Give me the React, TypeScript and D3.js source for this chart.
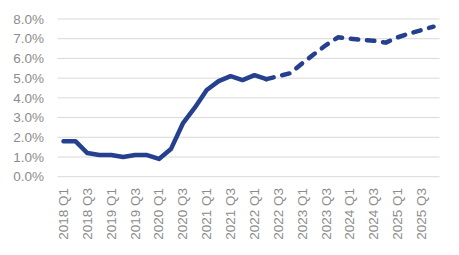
import React from "react";
import * as d3 from "d3";

const quarters: string[] = [];
for (let y = 2018; y <= 2025; y++) for (let q = 1; q <= 4; q++) quarters.push(`${y} Q${q}`);

const values = [
  1.8, 1.8, 1.2, 1.1, 1.1, 1.0, 1.1, 1.1,
  0.9, 1.4, 2.7, 3.5, 4.4, 4.85, 5.1, 4.9,
  5.15, 4.95, 5.1, 5.25, 5.75, 6.22, 6.68, 7.07,
  7.0, 6.94, 6.9, 6.8, 7.07, 7.27, 7.44, 7.61,
];
const lastActualIndex = 17;
const yTicks = [0, 1, 2, 3, 4, 5, 6, 7, 8];

const W = 459, H = 255;

export default function App() {
  const x = d3.scaleBand<string>().domain(quarters).range([57.5, 439.5]).padding(0);
  const y = d3.scaleLinear().domain([0, 8]).range([176.7, 19]);
  const cx = (q: string) => (x(q) as number) + x.bandwidth() / 2;
  const pts = values.map((v, i) => ({ v, i }));
  const lineP = d3.line<{ v: number; i: number }>().x((d) => cx(quarters[d.i])).y((d) => y(d.v));
  const actual = lineP(pts.filter((d) => d.i <= lastActualIndex)) || "";
  const forecast = lineP(pts.filter((d) => d.i >= lastActualIndex)) || "";
  const font = "'Liberation Sans', Arial, sans-serif";
  return (
    <svg width={W} height={H} style={{ position: "absolute", left: 0, top: 0 }}>
      <rect width={W} height={H} fill="#fff" />
      {yTicks.map((t) => (
        <g key={t}>
          <line x1={57.5} x2={439.5} y1={y(t)} y2={y(t)} stroke="#d9d9d9" strokeWidth={1} />
          <text x={44} y={y(t)} dy="0.35em" textAnchor="end" fontSize={13.5} fill="#8c8c8c" fontFamily={font}>
            {t.toFixed(1)}%
          </text>
        </g>
      ))}
      {quarters.map((q, i) =>
        i % 2 === 0 ? (
          <text key={q} transform={`translate(${cx(q) + 4.5},188) rotate(-90)`} textAnchor="end" fontSize={13.5} fill="#8c8c8c" fontFamily={font}>
            {q}
          </text>
        ) : null
      )}
      <path d={actual} fill="none" stroke="#25408e" strokeWidth={4.5} strokeLinejoin="round" strokeLinecap="round" />
      <path d={forecast} fill="none" stroke="#25408e" strokeWidth={4.5} strokeLinejoin="round" strokeLinecap="round" strokeDasharray="7.5 8.7" />
    </svg>
  );
}
